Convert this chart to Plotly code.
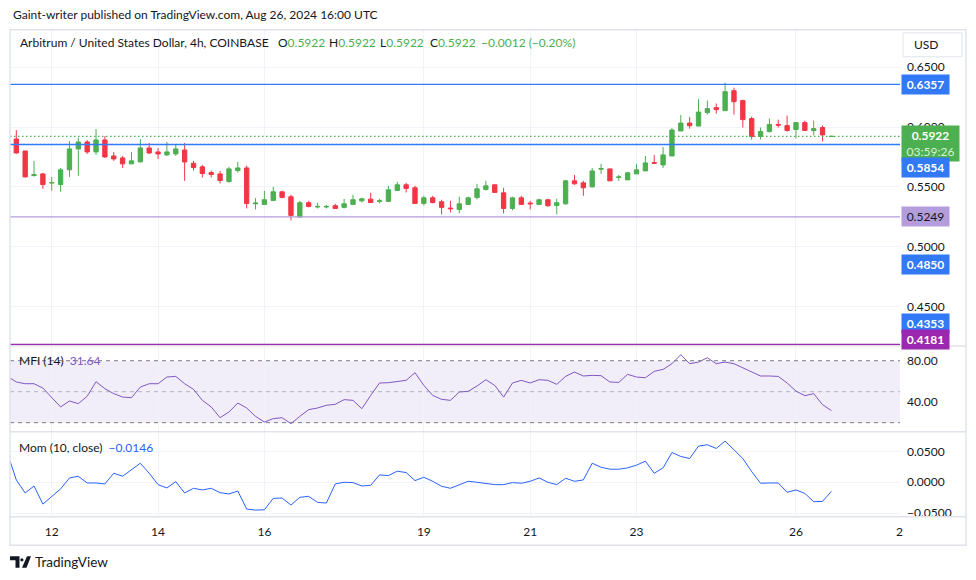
import pandas as pd
import plotly.graph_objects as go

# ---------------- data ----------------
first_bar = "2024-08-11 04:00"          # bar before the first visible candle (indicators only)
n_bars = 94
times = pd.date_range(first_bar, periods=n_bars, freq="4h")
candle_times = times[1:]

open_ = [0.5900, 0.5800, 0.5594, 0.5608, 0.5531, 0.5519, 0.5642, 0.5817, 0.5875, 0.5792,
         0.5892, 0.5758, 0.5742, 0.5692, 0.5708, 0.5825, 0.5792, 0.5767, 0.5775, 0.5808,
         0.5697, 0.5667, 0.5619, 0.5608, 0.5544, 0.5636, 0.5658, 0.5358, 0.5353, 0.5386,
         0.5458, 0.5417, 0.5247, 0.5367, 0.5331, 0.5331, 0.5342, 0.5328, 0.5353, 0.5383,
         0.5397, 0.5378, 0.5378, 0.5469, 0.5517, 0.5492, 0.5361, 0.5408, 0.5375, 0.5322,
         0.5311, 0.5353, 0.5411, 0.5478, 0.5517, 0.5450, 0.5319, 0.5408, 0.5364, 0.5353,
         0.5392, 0.5344, 0.5358, 0.5550, 0.5533, 0.5500, 0.5647, 0.5650, 0.5578, 0.5558,
         0.5608, 0.5633, 0.5703, 0.5683, 0.5758, 0.5967, 0.6033, 0.6008, 0.6121, 0.6162,
         0.6137, 0.6304, 0.6221, 0.6071, 0.5921, 0.5962, 0.6021, 0.6012, 0.5979, 0.6037,
         0.5971, 0.5996, 0.59215]
high = [0.5975, 0.5800, 0.5717, 0.5617, 0.5583, 0.5658, 0.5883, 0.5911, 0.5892, 0.5983,
        0.5925, 0.5792, 0.5758, 0.5792, 0.5900, 0.5867, 0.5825, 0.5875, 0.5850, 0.5867,
        0.5717, 0.5683, 0.5636, 0.5633, 0.5667, 0.5708, 0.5678, 0.5406, 0.5467, 0.5500,
        0.5467, 0.5433, 0.5383, 0.5383, 0.5367, 0.5350, 0.5358, 0.5400, 0.5433, 0.5408,
        0.5450, 0.5400, 0.5508, 0.5542, 0.5533, 0.5508, 0.5425, 0.5425, 0.5392, 0.5383,
        0.5417, 0.5417, 0.5525, 0.5550, 0.5517, 0.5492, 0.5417, 0.5425, 0.5383, 0.5400,
        0.5400, 0.5400, 0.5558, 0.5600, 0.5550, 0.5658, 0.5692, 0.5650, 0.5600, 0.5625,
        0.5692, 0.5758, 0.5767, 0.5833, 0.5992, 0.6100, 0.6083, 0.6233, 0.6221, 0.6196,
        0.6371, 0.6329, 0.6229, 0.6087, 0.5996, 0.6071, 0.6062, 0.6096, 0.6037, 0.6054,
        0.6054, 0.6012, 0.5922]
low = [0.5778, 0.5578, 0.5586, 0.5483, 0.5467, 0.5458, 0.5583, 0.5592, 0.5775, 0.5767,
       0.5742, 0.5717, 0.5658, 0.5692, 0.5708, 0.5775, 0.5733, 0.5758, 0.5758, 0.5550,
       0.5636, 0.5578, 0.5578, 0.5528, 0.5536, 0.5619, 0.5319, 0.5311, 0.5353, 0.5386,
       0.5403, 0.5219, 0.5244, 0.5328, 0.5319, 0.5319, 0.5319, 0.5319, 0.5353, 0.5367,
       0.5369, 0.5361, 0.5378, 0.5469, 0.5453, 0.5361, 0.5344, 0.5361, 0.5269, 0.5286,
       0.5278, 0.5353, 0.5394, 0.5469, 0.5453, 0.5278, 0.5303, 0.5353, 0.5311, 0.5353,
       0.5333, 0.5269, 0.5350, 0.5517, 0.5425, 0.5492, 0.5608, 0.5550, 0.5550, 0.5558,
       0.5608, 0.5633, 0.5692, 0.5658, 0.5758, 0.5967, 0.5986, 0.6008, 0.6104, 0.6112,
       0.6137, 0.6104, 0.5996, 0.5896, 0.5896, 0.5954, 0.5996, 0.5962, 0.5904, 0.5971,
       0.5929, 0.5879, 0.5922]
close = [0.5783, 0.5583, 0.5603, 0.5519, 0.5536, 0.5642, 0.5817, 0.5875, 0.5792, 0.5892,
         0.5750, 0.5733, 0.5692, 0.5717, 0.5825, 0.5783, 0.5775, 0.5792, 0.5817, 0.5708,
         0.5661, 0.5611, 0.5603, 0.5553, 0.5650, 0.5658, 0.5361, 0.5364, 0.5392, 0.5458,
         0.5411, 0.5261, 0.5367, 0.5336, 0.5336, 0.5336, 0.5319, 0.5358, 0.5392, 0.5400,
         0.5369, 0.5383, 0.5475, 0.5517, 0.5486, 0.5361, 0.5408, 0.5369, 0.5328, 0.5317,
         0.5358, 0.5408, 0.5483, 0.5508, 0.5453, 0.5319, 0.5408, 0.5353, 0.5358, 0.5392,
         0.5342, 0.5367, 0.5550, 0.5525, 0.5492, 0.5633, 0.5653, 0.5550, 0.5583, 0.5617,
         0.5642, 0.5700, 0.5697, 0.5767, 0.5975, 0.6033, 0.6011, 0.6125, 0.6154, 0.6146,
         0.6296, 0.6212, 0.6062, 0.5921, 0.5962, 0.6021, 0.6016, 0.5971, 0.6037, 0.5971,
         0.5987, 0.5934, 0.5922]

mfi = [64.8, 59.4, 57.7, 57.7, 53.5, 44.8, 35.2, 41.0, 38.4, 45.5,
       59.7, 52.9, 48.1, 44.8, 44.2, 54.5, 57.7, 57.7, 64.2, 64.8,
       57.7, 52.3, 41.6, 35.2, 24.8, 30.3, 39.0, 34.2, 26.1, 20.6,
       23.9, 24.8, 19.0, 26.1, 32.6, 34.2, 36.8, 37.8, 42.3, 41.6,
       33.5, 46.4, 58.4, 58.7, 60.0, 61.0, 68.4, 56.1, 46.4, 42.6,
       41.6, 49.7, 50.3, 55.5, 61.6, 56.1, 44.8, 58.4, 61.0, 58.4,
       61.6, 61.0, 57.1, 64.8, 69.0, 65.2, 65.8, 65.5, 59.4, 59.0,
       66.8, 64.2, 63.5, 69.7, 71.6, 77.1, 85.8, 77.1, 78.7, 82.9,
       77.1, 78.7, 77.1, 72.9, 69.0, 65.2, 65.2, 64.8, 58.4, 50.6,
       46.1, 48.1, 37.4, 31.64]
mom = [0.0471, 0.0038, -0.0173, -0.0060, -0.0352, -0.0233, -0.0108, 0.0070, 0.0097, -0.0011,
       -0.0011, -0.0027, 0.0146, 0.0097, 0.0200, 0.0308, 0.0146, -0.0038, -0.0092, 0.0011,
       -0.0173, -0.0097, -0.0124, -0.0097, -0.0168, -0.0189, -0.0141, -0.0433, -0.0449, -0.0444,
       -0.0260, -0.0254, -0.0368, -0.0243, -0.0227, -0.0325, -0.0335, -0.0027, 0.0000, -0.0005,
       -0.0060, -0.0049, 0.0119, 0.0108, 0.0179, 0.0157, 0.0027, 0.0081, 0.0016, -0.0065,
       -0.0097, -0.0038, 0.0016, 0.0000, -0.0016, -0.0038, -0.0038, -0.0005, -0.0016, 0.0016,
       0.0070, 0.0000, -0.0038, 0.0065, 0.0016, 0.0038, 0.0308, 0.0243, 0.0211, 0.0211,
       0.0233, 0.0276, 0.0341, 0.0146, 0.0233, 0.0481, 0.0417, 0.0384, 0.0584, 0.0606,
       0.0546, 0.0665, 0.0525, 0.0384, 0.0173, -0.0016, -0.0011, -0.0011, -0.0162, -0.0124,
       -0.0179, -0.0314, -0.0308, -0.0146]

day_ticks = ["2024-08-12", "2024-08-14", "2024-08-16", "2024-08-19",
             "2024-08-21", "2024-08-23", "2024-08-26"]
day_labels = ["12", "14", "16", "19", "21", "23", "26"]
price_ticks = [0.45, 0.50, 0.55, 0.60, 0.65]
price_tick_labels = ["0.4500", "0.5000", "0.5500", "0.6000", "0.6500"]
mfi_ticks = [40, 80]
mfi_tick_labels = ["40.00", "80.00"]
mfi_bands = [20, 50, 80]
mom_ticks = [-0.05, 0.0, 0.05]
mom_tick_labels = ["\u22120.0500", "0.0000", "0.0500"]

line_levels = [0.6357, 0.5854]           # blue horizontal lines
support_level = 0.5249                    # lavender line
low_level = 0.4181                        # magenta line
last_price = 0.5922
extra_labels = [0.4850, 0.4353]           # blue price-scale labels
countdown = "03:59:26"

title_line = "Gaint-writer published on TradingView.com, Aug 26, 2024 16:00 UTC"
symbol_line = "Arbitrum / United States Dollar, 4h, COINBASE"
ohlc_text = [("O", "0.5922"), ("H", "0.5922"), ("L", "0.5922"), ("C", "0.5922")]
change_text = "\u22120.0012 (\u22120.20%)"
mfi_name, mfi_last = "MFI (14)", "31.64"
mom_name, mom_last = "Mom (10, close)", "\u22120.0146"

# ---------------- geometry helpers ----------------
W, H = 976, 580
def px(x):
    return x / W
def Y(y):
    # small vertical correction of measured reference pixel rows
    return y + 1 + (y - 29) * 0.0058
def py(y):
    return 1 - Y(y) / H

FONT = "Lato"
TXT = "#131722"
GREEN = "#4caf50"
RED = "#f23645"
BLUE = "#3179f5"
LAV = "#b39ddb"
MAG = "#9c27b0"
GRID = "#f0f3fa"
BORDER = "#e0e3eb"

# x scale: day 12 at x=51.74 px, 2.215 px per hour, plot from 10 to 900 px
day12 = pd.Timestamp("2024-08-12")
pph = 2.215
x_left = day12 - pd.Timedelta(hours=(51.74 - 10) / pph)
x_right = day12 + pd.Timedelta(hours=(900 - 51.74) / pph)

# price scale (reference pixels): 0.65 at 66.5 px, 1197 px per unit; pane 29..345
def price_at(y):
    return 0.65 - (y - 66.5) / 1197
def y_of_price(p):
    return 66.5 + (0.65 - p) * 1197

fig = go.Figure()

fig.add_trace(go.Candlestick(
    x=candle_times, open=open_, high=high, low=low, close=close,
    increasing=dict(line=dict(color=GREEN, width=1), fillcolor=GREEN),
    decreasing=dict(line=dict(color=RED, width=1), fillcolor=RED),
    whiskerwidth=0, hoverinfo="skip", showlegend=False,
    xaxis="x", yaxis="y"))

fig.add_trace(go.Scatter(x=times, y=mfi, mode="lines",
                         line=dict(color="#7e57c2", width=1),
                         hoverinfo="skip", showlegend=False, xaxis="x", yaxis="y2"))
fig.add_trace(go.Scatter(x=times, y=mom, mode="lines",
                         line=dict(color="#2962ff", width=1),
                         hoverinfo="skip", showlegend=False, xaxis="x", yaxis="y3"))

shapes = []
# MFI band
shapes.append(dict(type="rect", xref="paper", yref="y2", x0=px(10), x1=px(900),
                   y0=mfi_bands[0], y1=mfi_bands[2], fillcolor="rgba(126,87,194,0.1)",
                   line=dict(width=0), layer="below"))
for v, c in zip(mfi_bands, ["#787b86", "rgba(120,123,134,0.5)", "#787b86"]):
    shapes.append(dict(type="line", xref="paper", yref="y2", x0=px(10), x1=px(900),
                       y0=v, y1=v, line=dict(color=c, width=1, dash="4px,4px")))
# price levels
for lv in line_levels:
    shapes.append(dict(type="line", xref="paper", yref="y", x0=px(10), x1=px(900),
                       y0=lv, y1=lv, line=dict(color=BLUE, width=1.3)))
shapes.append(dict(type="line", xref="paper", yref="y", x0=px(10), x1=px(900),
                   y0=support_level, y1=support_level, line=dict(color=LAV, width=1.3)))
shapes.append(dict(type="line", xref="paper", yref="y", x0=px(10), x1=px(900),
                   y0=low_level, y1=low_level, line=dict(color=MAG, width=1.5)))
shapes.append(dict(type="line", xref="paper", yref="y", x0=px(10), x1=px(900),
                   y0=last_price, y1=last_price, line=dict(color=GREEN, width=1.2, dash="1.5px,2.5px")))
# frame and pane separators
shapes.append(dict(type="rect", xref="paper", yref="paper", x0=px(10), x1=px(966),
                   y0=py(545), y1=py(29), line=dict(color=BORDER, width=1.5)))
for ysep in [345.5, 431.5, 516.5]:
    shapes.append(dict(type="line", xref="paper", yref="paper", x0=px(10), x1=px(966),
                       y0=py(ysep), y1=py(ysep), line=dict(color=BORDER, width=1.5)))
# USD box
shapes.append(dict(type="rect", xref="paper", yref="paper", x0=px(903), x1=px(962),
                   y0=py(56), y1=py(32), line=dict(color=BORDER, width=1), fillcolor="white"))
# TradingView logo
shapes.append(dict(type="path", xref="paper", yref="paper",
                   path="M {} {} L {} {} L {} {} L {} {} L {} {} L {} {} Z".format(
                       px(10), py(556), px(19.5), py(556), px(19.5), py(567.5),
                       px(15.5), py(567.5), px(15.5), py(560), px(10), py(560)),
                   fillcolor=TXT, line=dict(width=0)))
shapes.append(dict(type="circle", xref="paper", yref="paper",
                   x0=px(20.3), x1=px(23.5), y0=py(561.2), y1=py(558),
                   fillcolor=TXT, line=dict(width=0)))
shapes.append(dict(type="path", xref="paper", yref="paper",
                   path="M {} {} L {} {} L {} {} L {} {} Z".format(
                       px(27), py(556), px(31), py(556), px(26.5), py(567.5), px(22), py(567.5)),
                   fillcolor=TXT, line=dict(width=0)))

ann = []
def text(x, y, s, size=12, color=TXT, anchor="left", **kw):
    ann.append(dict(xref="paper", yref="paper", x=px(x), y=py(y), text=s, showarrow=False,
                    xanchor=anchor, yanchor="middle", font=dict(family=FONT, size=size, color=color), **kw))

text(10.5, 14, title_line)
text(18, 42, symbol_line)
for xo, (k, v) in zip([276, 327, 378, 428], ohlc_text):
    text(xo, 42, k + "<span style='color:%s'>%s</span>" % (GREEN, v))
text(479, 42, change_text, color=GREEN)
text(17, 360.5, mfi_name + "  <span style='color:#7e57c2'>%s</span>" % mfi_last)
text(17, 447, mom_name + "  <span style='color:#2962ff'>%s</span>" % mom_last)
text(912, 44, "USD")
text(899, 531, "2", anchor="center")
text(33, 562, "TradingView", size=13.5)

def price_label(value, bg, fg="white", center=None, width=43, bold=True, extra=None):
    s = "%.4f" % value
    s = "<b>%s</b>" % s if bold else s
    if extra:
        s += "<br>" + extra
    natural = y_of_price(value)
    c = natural if center is None else center
    ann.append(dict(xref="paper", yref="y", x=px(901), y=value, text=s, showarrow=False,
                    xanchor="left", yanchor="middle", align="center", bgcolor=bg, borderpad=2,
                    width=width, yshift=-(Y(c) - Y(natural)),
                    font=dict(family=FONT, size=12, color=fg)))

price_label(line_levels[0], BLUE)
price_label(last_price, GREEN, center=143, width=53,
            extra="<span style='color:#d9f2da'>%s</span>" % countdown)
price_label(line_levels[1], BLUE, center=167)
price_label(support_level, LAV, fg=TXT, bold=False)
for v in extra_labels:
    price_label(v, BLUE)
price_label(low_level, MAG, center=339.5)

axis_font = dict(family=FONT, size=12, color=TXT)
fig.update_layout(
    width=W, height=H, margin=dict(l=0, r=0, t=0, b=0),
    paper_bgcolor="white", plot_bgcolor="white",
    showlegend=False, shapes=shapes, annotations=ann,
    xaxis=dict(type="date", domain=[px(10), px(900)], range=[x_left, x_right],
               anchor="y3", tickvals=day_ticks, ticktext=day_labels,
               showgrid=True, gridcolor=GRID, gridwidth=1, zeroline=False,
               showline=False, ticks="", tickfont=axis_font, ticklabelstandoff=7,
               rangeslider=dict(visible=False), fixedrange=True),
    yaxis=dict(domain=[py(345), py(29)], range=[price_at(345), price_at(29)],
               side="right", anchor="x", tickvals=price_ticks, ticktext=price_tick_labels,
               showgrid=True, gridcolor=GRID, zeroline=False, ticks="",
               tickfont=axis_font, ticklabelstandoff=6, fixedrange=True),
    yaxis2=dict(domain=[py(431), py(346)], range=[11.58, 93.84], side="right", anchor="x",
                tickvals=mfi_ticks, ticktext=mfi_tick_labels, showgrid=False, zeroline=False,
                ticks="", tickfont=axis_font, ticklabelstandoff=6, fixedrange=True),
    yaxis3=dict(domain=[py(516), py(432)], range=[-0.05484, 0.08065], side="right", anchor="x",
                tickvals=mom_ticks, ticktext=mom_tick_labels, showgrid=True, gridcolor=GRID,
                zeroline=False, ticks="", tickfont=axis_font, ticklabelstandoff=6, fixedrange=True),
)

fig.write_html("out.html", config={"displayModeBar": False},
               post_script="document.body.style.margin='0';document.body.style.overflow='hidden';")
